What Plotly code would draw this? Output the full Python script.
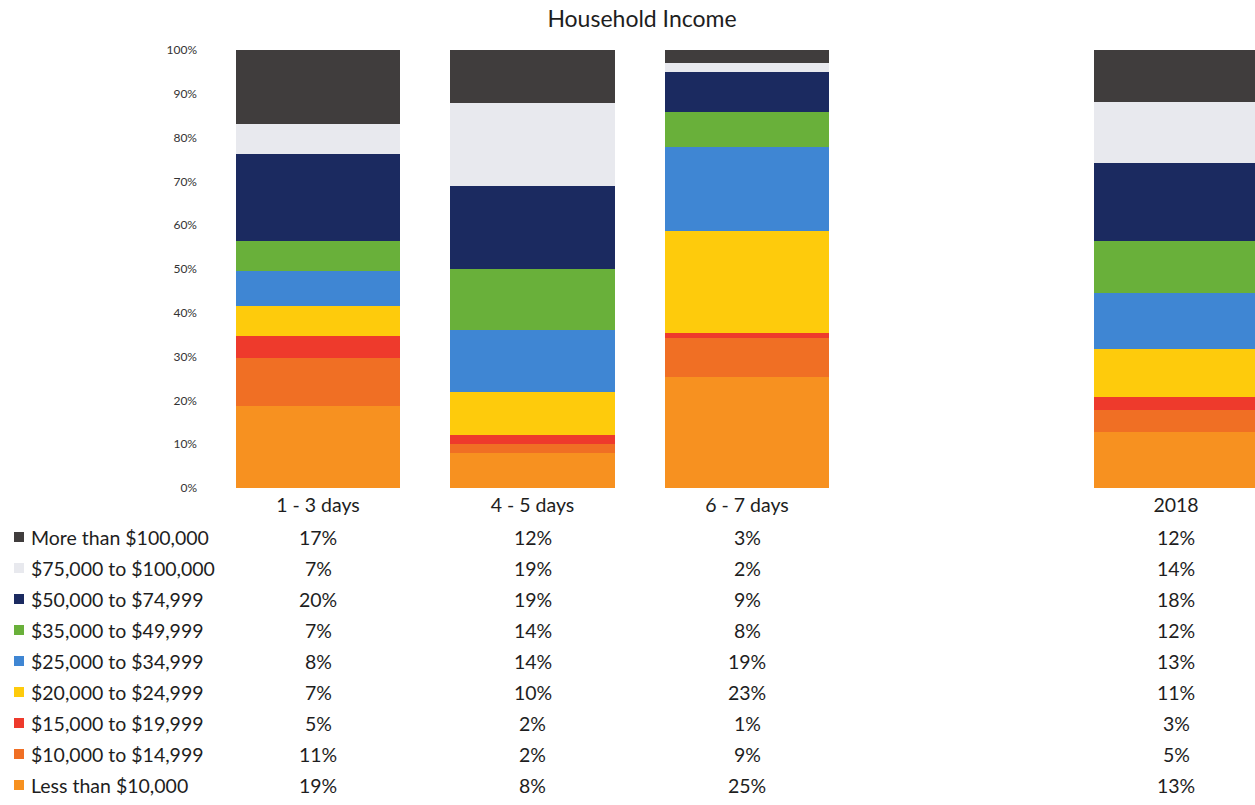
import plotly.graph_objects as go

categories = ["1 - 3 days", "4 - 5 days", "6 - 7 days", "2018"]
cat_pos = [0, 1, 2, 4]

# series listed top-of-table to bottom-of-table
series_names = [
    "More than $100,000",
    "$75,000 to $100,000",
    "$50,000 to $74,999",
    "$35,000 to $49,999",
    "$25,000 to $34,999",
    "$20,000 to $24,999",
    "$15,000 to $19,999",
    "$10,000 to $14,999",
    "Less than $10,000",
]
more_100k = [17, 12, 3, 12]
k75_100 = [7, 19, 2, 14]
k50_75 = [20, 19, 9, 18]
k35_50 = [7, 14, 8, 12]
k25_35 = [8, 14, 19, 13]
k20_25 = [7, 10, 23, 11]
k15_20 = [5, 2, 1, 3]
k10_15 = [11, 2, 9, 5]
less_10k = [19, 8, 25, 13]
series_values = [more_100k, k75_100, k50_75, k35_50, k25_35, k20_25, k15_20, k10_15, less_10k]

colors = ["#403d3d", "#e8e9ee", "#1b2a60", "#69b03a", "#3f86d3",
          "#fecb0c", "#ee3a2c", "#f06f24", "#f79120"]

y_ticks = [0, 10, 20, 30, 40, 50, 60, 70, 80, 90, 100]
y_tick_labels = ["0%", "10%", "20%", "30%", "40%", "50%", "60%", "70%", "80%", "90%", "100%"]

W, H = 1255, 805
L, R, T, B = 205, 0, 50, 317
pw, ph = W - L - R, H - T - B

def px_x(px):
    return (px - L) / pw

def px_y(py):
    return (H - B - py) / ph

fig = go.Figure()
# stack from bottom (Less than $10,000) upwards
for name, vals, col in reversed(list(zip(series_names, series_values, colors))):
    fig.add_trace(go.Bar(
        x=cat_pos, y=vals, name=name, width=0.765,
        marker=dict(color=col, line=dict(width=0)),
    ))

# x scale: center 0 -> 318px, spacing 214.5px
x0 = (L - 318) / 214.5
x1 = (W - R - 318) / 214.5

fig.update_layout(
    barmode="stack", barnorm="percent",
    width=W, height=H,
    margin=dict(l=L, r=R, t=T, b=B),
    paper_bgcolor="white", plot_bgcolor="white",
    showlegend=False,
    font=dict(family="Lato, Carlito, sans-serif", color="#1e1e1e"),
    title=dict(text="Household Income", x=642 / W, xanchor="center",
               y=1 - 19 / H, yanchor="middle",
               font=dict(size=23, color="#1e1e1e")),
    xaxis=dict(range=[x0, x1], tickvals=cat_pos, ticktext=categories,
               showgrid=False, zeroline=False, showline=False, ticks="",
               ticklabelstandoff=3,
               tickfont=dict(size=19.5, color="#1e1e1e")),
    yaxis=dict(range=[0, 100], tickmode="array", tickvals=y_ticks, ticktext=y_tick_labels,
               showgrid=False, zeroline=False, showline=False, ticks="",
               ticklabelstandoff=7,
               tickfont=dict(size=12, color="#333333")),
)

row_y0, row_dy = 537, 31
for i, (name, vals, col) in enumerate(zip(series_names, series_values, colors)):
    py = row_y0 + i * row_dy
    yy = px_y(py)
    # legend marker square
    fig.add_shape(type="rect", xref="paper", yref="paper",
                  x0=px_x(14), x1=px_x(24), y0=px_y(py + 5), y1=px_y(py - 5),
                  fillcolor=col, line=dict(width=0))
    fig.add_annotation(text=name, xref="paper", yref="paper",
                       x=px_x(29), y=yy, xanchor="left", yanchor="middle",
                       showarrow=False, font=dict(size=19.5, color="#1e1e1e"))
    for xp, v in zip(cat_pos, vals):
        fig.add_annotation(text=f"{v}%", xref="x", yref="paper",
                           x=xp, y=yy, xanchor="center", yanchor="middle",
                           showarrow=False, font=dict(size=19.5, color="#1e1e1e"))

fig.write_html("out.html")
